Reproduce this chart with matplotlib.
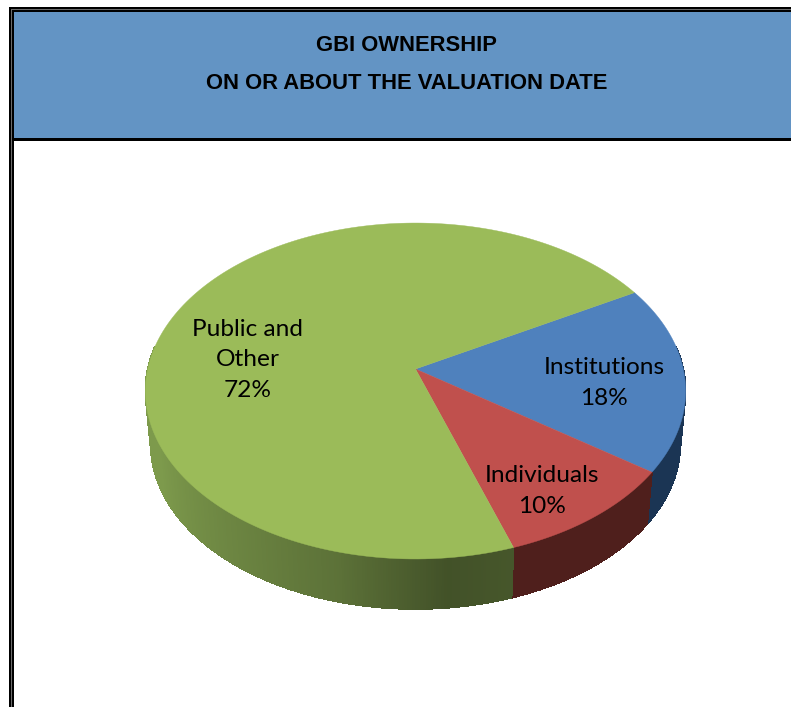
import matplotlib
matplotlib.use('Agg')
import matplotlib.pyplot as plt
from matplotlib.colors import to_rgb
from matplotlib.patches import Polygon, Rectangle
import numpy as np

# Participação acionária
categories = ['Institutions', 'Individuals', 'Public and\nOther']
shares = [18, 10, 72]
top_colors = ['#4f81bd', '#c0504d', '#9bbb59']
wall_colors = ['#1b3554', '#4f1f1c', '#7d9a4c']
title_lines = ['GBI OWNERSHIP', 'ON OR ABOUT THE VALUATION DATE']
label_pos = [(604, 383), (542, 491), (248, 360)]

W, H = 791, 707

# Pie geometry, in pixels
CX, CY = 415.5, 369
RX, RY, PERSP = 267.8, 165.1, 0.131
BOTTOM_SCALE, BOTTOM_CY = 0.98, 422.8
START_ANGLE = -29.5


def rim(t, scale=1.0, cy=CY):
    t = np.radians(t)
    d = 1 - PERSP * np.sin(t)
    return np.c_[CX + scale * RX * np.cos(t) / d, cy + scale * RY * np.sin(t) / d]


def wall_shade(name, t):
    # Side wall gets darker toward the front right
    base = np.array(to_rgb(name))
    if name == wall_colors[2]:
        f = np.interp(t, [72, 84, 105, 125, 155], [0.56, 0.53, 0.74, 0.85, 1.0])
        return tuple(base * f)
    return tuple(base)


def box(x0, y0, x1, y1, color):
    ax.add_patch(Rectangle((x0, y0), x1 - x0, y1 - y0, fc=color, ec='none'))


fig = plt.figure(figsize=(W / 100, H / 100), dpi=100)
ax = fig.add_axes([0, 0, 1, 1])
ax.set_xlim(0, W)
ax.set_ylim(H, 0)
ax.axis('off')

# Header band and double frame line
box(14, 12, W, 138, '#6394c4')
box(9, 7, W, 9, '#000000')
box(11, 9, W, 10, '#6b6b6b')
box(12, 10, W, 12, '#000000')
box(9, 7, 11, H, '#000000')
box(11, 9, 12, H, '#6b6b6b')
box(12, 10, 14, H, '#000000')
box(14, 138, W, 141, '#000000')
for i, line in enumerate(title_lines):
    ax.text(406.5, 45.5 + i * 38, line, ha='center', va='center', fontsize=15.8, fontweight='bold',
            family='Liberation Sans', color='#000000')

edges = START_ANGLE + np.cumsum([0] + shares) * 3.6

# Side walls, only the part facing the viewer
for i, name in enumerate(wall_colors):
    a0, a1 = max(edges[i], -8), min(edges[i + 1], 188)
    if a1 <= a0:
        continue
    steps = np.linspace(a0, a1, int((a1 - a0) * 2) + 2)
    for s0, s1 in zip(steps[:-1], steps[1:]):
        seg = np.array([s0, s1])
        quad = np.vstack([rim(seg), rim(seg[::-1], BOTTOM_SCALE, BOTTOM_CY)])
        shade = wall_shade(name, s0)
        ax.add_patch(Polygon(quad, closed=True, fc=shade, ec=shade, lw=0.5, antialiased=False))

# Top face
for i, color in enumerate(top_colors):
    arc = rim(np.linspace(edges[i], edges[i + 1], 200))
    ax.add_patch(Polygon(np.vstack([[CX, CY], arc]), closed=True, fc=color, ec=color, lw=0.3))

for cat, share, (x, y) in zip(categories, shares, label_pos):
    ax.text(x, y, f'{cat}\n{share}%', ha='center', va='center', fontsize=17.6,
            family='Lato', color='#000000', linespacing=1.56)

fig.savefig('out.png', dpi=100)
